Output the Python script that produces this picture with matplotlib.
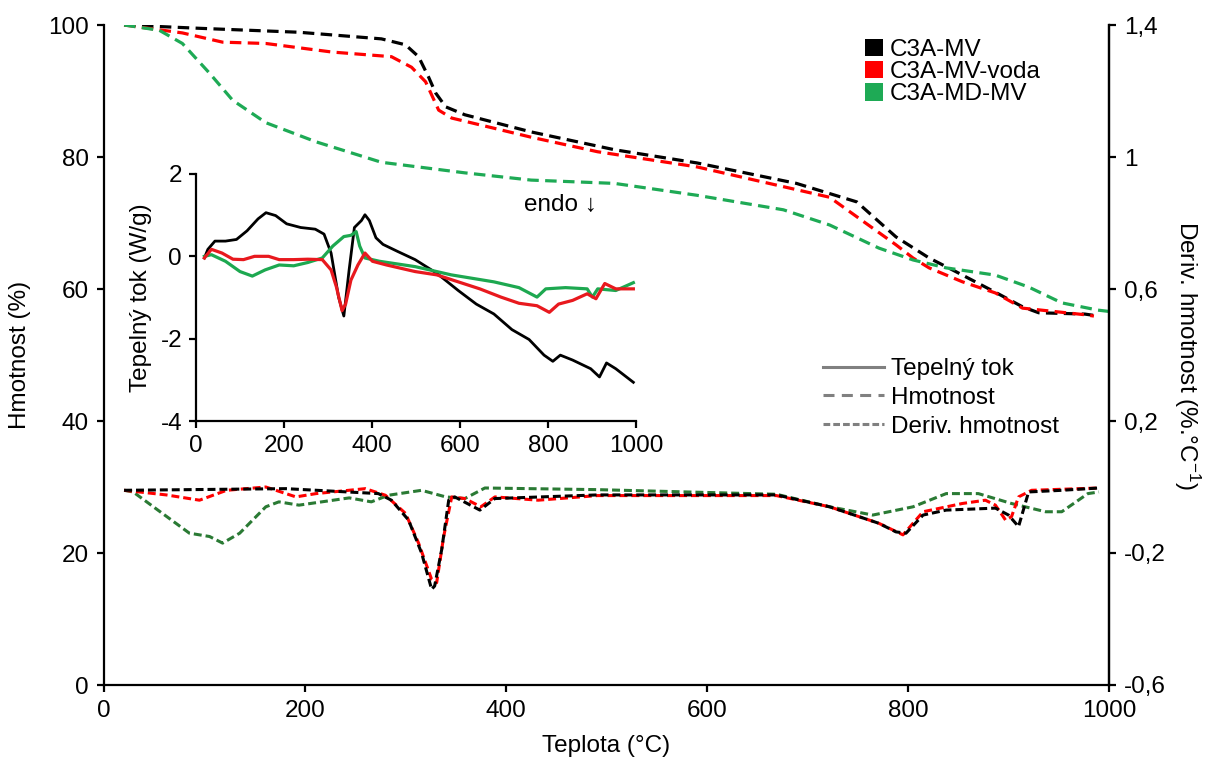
import matplotlib
matplotlib.use('Agg')
import matplotlib.pyplot as plt
from matplotlib.patches import Patch
from matplotlib.lines import Line2D

plt.rcParams['font.family'] = ['Liberation Sans', 'DejaVu Sans']
plt.rcParams['mathtext.fontset'] = 'custom'
plt.rcParams['mathtext.rm'] = 'Liberation Sans'
plt.rcParams['mathtext.it'] = 'Liberation Sans:italic'
plt.rcParams['axes.unicode_minus'] = False

# ---------------- data ----------------
series_names = ['C3A-MV', 'C3A-MV-voda', 'C3A-MD-MV']
style_names = ['Tepelný tok', 'Hmotnost', 'Deriv. hmotnost']

# TGA (Hmotnost, %)
tga_mv_T = [20, 95, 194, 276, 300, 313, 323, 330, 340, 359, 425, 508, 590, 689, 749, 788, 821, 848, 887, 914, 930, 976, 985]
tga_mv_H = [100, 99.5, 98.9, 97.9, 97.0, 95.2, 92.1, 89.7, 87.6, 86.4, 83.8, 81.1, 79.1, 76.0, 73.2, 67.9, 64.7, 62.6, 59.5, 57.3, 56.4, 56.2, 56.0]

tga_voda_T = [20, 78, 118, 161, 227, 286, 306, 320, 333, 346, 425, 491, 590, 722, 788, 805, 821, 854, 887, 914, 976, 985]
tga_voda_H = [100, 98.8, 97.4, 97.2, 95.9, 95.2, 93.6, 91.4, 87.1, 85.9, 83.0, 80.8, 78.5, 73.9, 66.7, 64.7, 63.2, 61.1, 59.4, 57.1, 56.1, 55.9]

tga_md_T = [20, 55, 78, 105, 128, 161, 211, 276, 359, 425, 508, 590, 676, 722, 771, 805, 838, 887, 920, 953, 989, 1000]
tga_md_H = [100, 99.2, 97.2, 92.7, 88.6, 85.2, 82.3, 79.2, 77.6, 76.5, 76.0, 74.2, 72.0, 69.7, 66.2, 64.4, 63.2, 62.1, 60.3, 57.9, 56.8, 56.6]

# DTG (Deriv. hmotnost, %/°C)
dtg_mv_T = [20, 181, 273, 286, 303, 316, 326, 329, 336, 343, 349, 374, 389, 491, 669, 722, 771, 788, 798, 815, 838, 887, 900, 910, 920, 953, 990]
dtg_mv_D = [-0.01, -0.005, -0.02, -0.04, -0.10, -0.20, -0.31, -0.30, -0.19, -0.04, -0.03, -0.07, -0.035, -0.024, -0.024, -0.06, -0.11, -0.136, -0.14, -0.085, -0.07, -0.064, -0.085, -0.12, -0.015, -0.01, -0.003]

dtg_voda_T = [20, 62, 95, 122, 161, 191, 211, 260, 280, 300, 313, 326, 331, 338, 346, 359, 375, 389, 432, 491, 669, 722, 771, 795, 815, 854, 877, 887, 897, 903, 910, 923, 990]
dtg_voda_D = [-0.01, -0.024, -0.04, -0.01, 0.0, -0.03, -0.02, -0.005, -0.025, -0.08, -0.17, -0.28, -0.29, -0.15, -0.03, -0.035, -0.06, -0.03, -0.04, -0.026, -0.026, -0.06, -0.11, -0.145, -0.075, -0.05, -0.04, -0.055, -0.10, -0.09, -0.03, -0.01, -0.003]

dtg_md_T = [20, 29, 85, 105, 118, 135, 161, 174, 194, 244, 266, 283, 316, 340, 359, 379, 491, 669, 722, 765, 805, 838, 870, 903, 937, 953, 979, 990]
dtg_md_D = [-0.01, -0.015, -0.14, -0.15, -0.17, -0.14, -0.06, -0.045, -0.055, -0.033, -0.045, -0.025, -0.01, -0.03, -0.035, -0.003, -0.008, -0.022, -0.06, -0.085, -0.06, -0.02, -0.02, -0.05, -0.075, -0.075, -0.02, -0.015]

# DSC (Tepelný tok, W/g)
dsc_mv_T = [19, 27, 43, 67, 92, 116, 141, 159, 181, 206, 238, 271, 291, 307, 324, 336, 348, 360, 376, 384, 394, 409, 425, 458, 498, 547, 596, 637, 677, 718, 757, 791, 811, 828, 856, 897, 917, 933, 954, 994]
dsc_mv_Q = [-0.04, 0.17, 0.37, 0.37, 0.41, 0.62, 0.91, 1.06, 0.99, 0.79, 0.70, 0.66, 0.54, 0.08, -0.99, -1.45, -0.33, 0.70, 0.87, 1.01, 0.87, 0.45, 0.29, 0.12, -0.08, -0.41, -0.83, -1.16, -1.40, -1.78, -2.02, -2.40, -2.55, -2.40, -2.52, -2.73, -2.93, -2.59, -2.73, -3.06]

dsc_voda_T = [19, 35, 59, 84, 108, 133, 165, 189, 222, 254, 287, 307, 319, 332, 340, 352, 368, 384, 401, 433, 498, 547, 596, 645, 693, 734, 775, 803, 824, 856, 889, 909, 929, 954, 994]
dsc_voda_Q = [-0.04, 0.17, 0.08, -0.07, -0.08, 0.0, 0.0, -0.08, -0.08, -0.07, -0.08, -0.33, -0.74, -1.32, -1.16, -0.58, -0.21, 0.08, -0.12, -0.21, -0.37, -0.45, -0.62, -0.79, -0.99, -1.14, -1.20, -1.36, -1.16, -1.07, -0.91, -1.03, -0.66, -0.79, -0.79]

dsc_md_T = [19, 35, 67, 100, 128, 157, 189, 222, 254, 287, 311, 336, 352, 364, 372, 384, 417, 498, 580, 677, 734, 775, 795, 840, 889, 901, 913, 954, 994]
dsc_md_Q = [0.0, 0.04, -0.12, -0.37, -0.48, -0.33, -0.21, -0.23, -0.15, -0.04, 0.25, 0.48, 0.51, 0.60, 0.25, -0.04, -0.12, -0.25, -0.45, -0.62, -0.76, -0.99, -0.79, -0.76, -0.79, -0.99, -0.79, -0.83, -0.64]

main_yticks = [0, 20, 40, 60, 80, 100]
main_xticks = [0, 200, 400, 600, 800, 1000]
right_yticks = [-0.6, -0.2, 0.2, 0.6, 1.0, 1.4]
right_yticklabels = ['-0,6', '-0,2', '0,2', '0,6', '1', '1,4']
inset_yticks = [-4, -2, 0, 2]
inset_xticks = [0, 200, 400, 600, 800, 1000]

# ---------------- styles ----------------
c_black = '#000000'
c_red = '#FF0000'
c_green = '#1EAA55'
c_dgreen = '#2A7A34'
c_dsc_red = '#E8191E'
c_dsc_green = '#1DA850'
FS = 17.5
W, H = 1208, 758

fig = plt.figure(figsize=(W / 100, H / 100), dpi=100)
ax = fig.add_axes([104 / W, 1 - 685 / H, (1109 - 104) / W, (685 - 25) / H])
ax2 = ax.twinx()

tga_dash = (3.6, 2.0)
lw_tga = 2.3
for T, Hm, c in [(tga_mv_T, tga_mv_H, c_black), (tga_voda_T, tga_voda_H, c_red), (tga_md_T, tga_md_H, c_green)]:
    ax.plot(T, Hm, color=c, lw=lw_tga, dashes=tga_dash)

dtg_dash = (2.6, 1.3)
lw_dtg = 2.2
for T, D, c in [(dtg_md_T, dtg_md_D, c_dgreen), (dtg_voda_T, dtg_voda_D, c_red), (dtg_mv_T, dtg_mv_D, c_black)]:
    ax2.plot(T, D, color=c, lw=lw_dtg, dashes=dtg_dash)

ax.set_xlim(0, 1000)
ax.set_ylim(0, 100)
ax2.set_ylim(-0.6, 1.4)
ax.set_xticks(main_xticks)
ax.set_yticks(main_yticks)
ax2.set_yticks(right_yticks)
ax2.set_yticklabels(right_yticklabels)

for a in (ax, ax2):
    a.spines['top'].set_visible(False)
    for s in a.spines.values():
        s.set_linewidth(1.6)
    a.tick_params(direction='out', length=5, width=1.6, labelsize=FS, pad=6)
ax2.spines['left'].set_visible(False)
ax2.spines['bottom'].set_visible(False)

ax.set_xlabel('Teplota (°C)', fontsize=FS, labelpad=9)
ax.set_ylabel('Hmotnost (%)', fontsize=FS, labelpad=12)
ax2.set_ylabel('Deriv. hmotnost (%.°C$^{-1}$)', fontsize=FS, rotation=270, labelpad=26)

# ---------------- inset ----------------
ins = fig.add_axes([196 / W, 1 - 421 / H, 440 / W, 247 / H])
ins.patch.set_alpha(0)
lw_dsc = 2.0
ins.plot(dsc_mv_T, dsc_mv_Q, color=c_black, lw=lw_dsc)
ins.plot(dsc_md_T, dsc_md_Q, color=c_dsc_green, lw=lw_dsc + 0.3)
ins.plot(dsc_voda_T, dsc_voda_Q, color=c_dsc_red, lw=lw_dsc + 0.3)
ins.set_xlim(0, 1000)
ins.set_ylim(-4, 2)
ins.set_xticks(inset_xticks)
ins.set_yticks(inset_yticks)
ins.spines['top'].set_visible(False)
ins.spines['right'].set_visible(False)
for s in ins.spines.values():
    s.set_linewidth(1.6)
ins.tick_params(direction='out', length=5, width=1.6, labelsize=FS, pad=5)
ins.set_ylabel('Tepelný tok (W/g)', fontsize=FS, labelpad=6)
ins.text(828, 1.24, 'endo ↓', fontsize=FS, ha='center', va='center',
         family=['Liberation Sans', 'DejaVu Sans'])

# ---------------- legends ----------------
h1 = [Patch(facecolor=c, edgecolor='none') for c in (c_black, c_red, c_green)]
leg1 = fig.legend(h1, series_names, loc='upper left', bbox_to_anchor=(865 / W, 1 - 39 / H),
                  frameon=False, fontsize=FS, handlelength=0.72, handleheight=0.72,
                  handletextpad=0.3, labelspacing=0.0, borderpad=0, borderaxespad=0)

gray = '#808080'
h2 = [Line2D([], [], color=gray, lw=2.2),
      Line2D([], [], color=gray, lw=2.2, dashes=(3.6, 2.4)),
      Line2D([], [], color=gray, lw=2.2, dashes=(2.2, 1.0))]
leg2 = fig.legend(h2, style_names, loc='upper left', bbox_to_anchor=(823 / W, 1 - 358 / H),
                  frameon=False, fontsize=FS, handlelength=2.5, handletextpad=0.3,
                  labelspacing=0.28, borderpad=0, borderaxespad=0)

fig.savefig('out.png', dpi=100)
